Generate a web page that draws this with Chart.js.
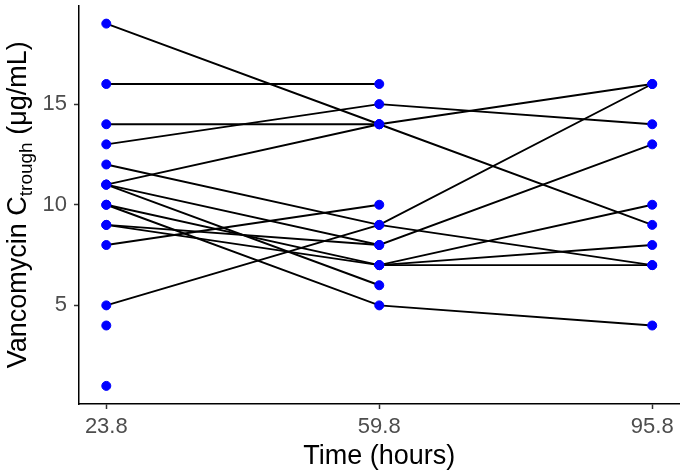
<!DOCTYPE html>
<html>
<head>
<meta charset="utf-8">
<script src="https://cdn.jsdelivr.net/npm/chart.js@4.4.1/dist/chart.umd.min.js"></script>
<style>
  html, body { margin: 0; padding: 0; background: #fff; }
  #wrap { width: 685px; height: 473px; }
</style>
</head>
<body>
<div id="wrap"><canvas id="c"></canvas></div>
<script>
// sampling times (hours)
const times = [23.8, 59.8, 95.8];
// trough concentration per patient at each sampling time (null = no sample)
const conc24 = [19, 16, 14, 13, 12, 11, 11, 11, 10, 10, 9, 9, 8, 5, 4, 1, null];
const conc60 = [14, 16, 14, 15, 9, 14, 8, 6, 7, 5, 8, 7, 10, 9, null, null, 7];
const conc96 = [9, null, null, 14, 7, 16, 13, null, 10, 4, null, 8, null, 16, null, null, 7];
const yTicks = [5, 10, 15];

const cols = [conc24, conc60, conc96];
const FONT = '"Liberation Sans", Arial, sans-serif';

// one line per patient
const lineSets = conc24.map((_, i) => ({
  data: times.map((t, j) => ({ x: t, y: cols[j][i] })),
  borderColor: '#000',
  borderWidth: 1.9,
  pointRadius: 0,
  showLine: true,
  spanGaps: false
}));

// all points in one dataset, drawn on top (index 0)
const pts = [];
cols.forEach((col, j) => col.forEach(v => { if (v !== null) pts.push({ x: times[j], y: v }); }));

const yTitle = {
  id: 'yTitle',
  afterDraw(chart) {
    const ctx = chart.ctx;
    const cy = (chart.chartArea.top + chart.chartArea.bottom) / 2;
    const parts = [
      { t: 'Vancomycin C', size: 27, dy: 0 },
      { t: 'trough', size: 19, dy: 6 },
      { t: ' (μg/mL)', size: 27, dy: 0 }
    ];
    ctx.save();
    ctx.fillStyle = '#000';
    ctx.textBaseline = 'alphabetic';
    let total = 0;
    parts.forEach(p => { ctx.font = p.size + 'px ' + FONT; p.w = ctx.measureText(p.t).width; total += p.w; });
    ctx.translate(26, cy);
    ctx.rotate(-Math.PI / 2);
    let x = -total / 2;
    parts.forEach(p => {
      ctx.font = p.size + 'px ' + FONT;
      ctx.fillText(p.t, x, p.dy);
      x += p.w;
    });
    ctx.restore();
  }
};

new Chart(document.getElementById('c'), {
  type: 'scatter',
  data: {
    datasets: [{
      data: pts,
      backgroundColor: '#0000ff',
      borderColor: '#0000ff',
      pointRadius: 4.5,
      showLine: false
    }].concat(lineSets)
  },
  options: {
    responsive: true,
    maintainAspectRatio: false,
    animation: false,
    layout: { padding: { top: 2, right: 3, left: 0, bottom: 0 } },
    plugins: { legend: { display: false }, tooltip: { enabled: false } },
    scales: {
      x: {
        type: 'linear',
        min: 20.2,
        max: 99.4,
        afterBuildTicks: s => { s.ticks = times.map(v => ({ value: v })); },
        afterFit: s => { s.height = 69; s.paddingLeft = 0; s.paddingRight = 0; },
        grid: { drawOnChartArea: false, tickLength: 5, tickColor: '#333', tickWidth: 1.5 },
        border: { display: true, color: '#000', width: 1.5 },
        ticks: { color: '#4d4d4d', font: { family: FONT, size: 22 }, padding: 5, maxRotation: 0, callback: v => v.toFixed(1) },
        title: { display: true, text: 'Time (hours)', color: '#000', font: { family: FONT, size: 27 }, padding: 0 }
      },
      y: {
        min: 0.1,
        max: 19.9,
        afterBuildTicks: s => { s.ticks = yTicks.map(v => ({ value: v })); },
        afterFit: s => { s.width = 79; s.paddingTop = 0; s.paddingBottom = 0; },
        grid: { drawOnChartArea: false, tickLength: 5, tickColor: '#333', tickWidth: 1.5 },
        border: { display: true, color: '#000', width: 1.5 },
        ticks: { color: '#4d4d4d', font: { family: FONT, size: 22 }, padding: 7 }
      }
    }
  },
  plugins: [yTitle]
});
</script>
</body>
</html>
